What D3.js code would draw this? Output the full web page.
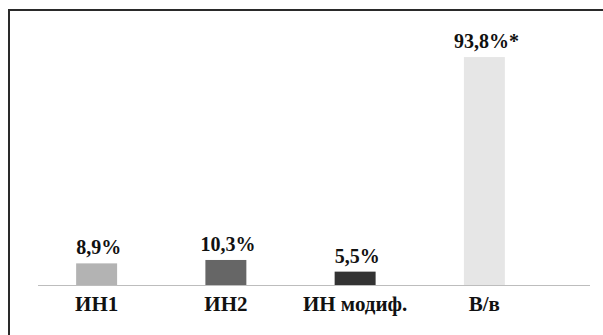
<!DOCTYPE html>
<html>
<head>
<meta charset="utf-8">
<script src="https://cdn.jsdelivr.net/npm/d3@7"></script>
<style>
  html, body { margin: 0; padding: 0; background: #fff; }
  svg { display: block; }
</style>
</head>
<body>
<svg id="chart" width="603" height="335"></svg>
<script>
// Categories and their percentages
const categories = ["ИН1", "ИН2", "ИН модиф.", "В/в"];
const values = [8.9, 10.3, 5.5, 93.8];
const valueLabels = ["8,9%", "10,3%", "5,5%", "93,8%*"];
const barColors = ["#b3b3b3", "#666666", "#333333", "#e6e6e6"];

const SERIF = '"Liberation Serif"';

const svg = d3.select("#chart");
const W = 603, H = 335;

// Frame around the chart (extends past the right and bottom edges)
svg.append("rect")
  .attr("x", 9).attr("y", 10)
  .attr("width", W + 10).attr("height", H + 10)
  .attr("fill", "none")
  .attr("stroke", "#2a2a2a")
  .attr("stroke-width", 2);

const x = d3.scaleBand()
  .domain(categories)
  .range([32, 549])
  .paddingInner(0.683)
  .paddingOuter(0.3415);

const y = d3.scaleLinear()
  .domain([0, 100])
  .range([285, 42]);

// Bars
svg.append("g").selectAll("rect")
  .data(categories)
  .join("rect")
  .attr("x", d => x(d))
  .attr("width", x.bandwidth())
  .attr("y", (d, i) => y(values[i]))
  .attr("height", (d, i) => y(0) - y(values[i]))
  .attr("fill", (d, i) => barColors[i]);

// Baseline
svg.append("line")
  .attr("x1", 38).attr("x2", 590)
  .attr("y1", y(0) + 0.5).attr("y2", y(0) + 0.5)
  .attr("stroke", "#bdbdbd")
  .attr("stroke-width", 1);

// Value labels above bars
svg.append("g").selectAll("text")
  .data(categories)
  .join("text")
  .attr("x", d => x(d) + x.bandwidth() / 2 + 2)
  .attr("y", (d, i) => y(values[i]) - 9)
  .attr("text-anchor", "middle")
  .style("font-family", SERIF)
  .style("font-weight", "bold")
  .style("font-size", "20px")
  .attr("fill", "#111")
  .text((d, i) => valueLabels[i]);

// Category labels under the axis
const xAxis = d3.axisBottom(x).tickSize(0).tickPadding(0);
const gx = svg.append("g")
  .attr("transform", `translate(0, ${y(0)})`)
  .call(xAxis)
  .attr("font-family", null)
  .attr("font-size", null);
gx.select(".domain").remove();
gx.selectAll("text")
  .attr("dy", null)
  .attr("y", 26)
  .style("font-family", SERIF)
  .style("font-weight", "bold")
  .style("font-size", "21px")
  .attr("fill", "#111");
</script>
</body>
</html>
